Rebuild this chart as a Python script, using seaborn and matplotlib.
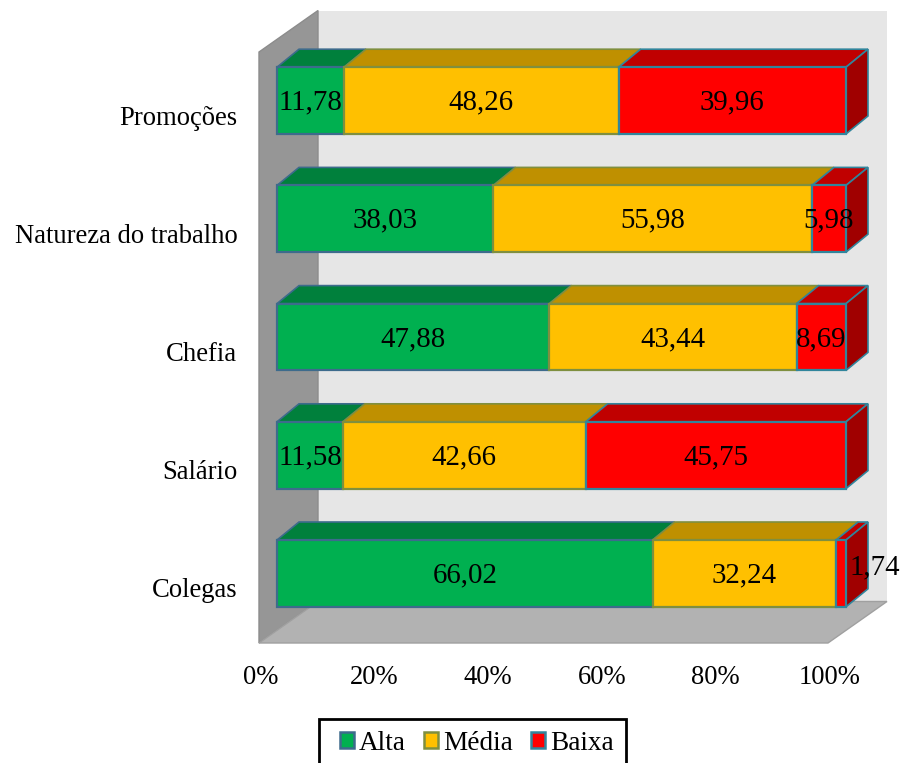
import numpy as np
import pandas as pd
import matplotlib
matplotlib.use("Agg")
import matplotlib.pyplot as plt
from matplotlib.patches import Patch, Polygon, Rectangle
from matplotlib.transforms import Affine2D, ScaledTranslation
import seaborn as sns

# Survey results: share of each satisfaction level per job aspect
categories = ["Promoções", "Natureza do trabalho", "Chefia", "Salário", "Colegas"]
alta = [11.78, 38.03, 47.88, 11.58, 66.02]
media = [48.26, 55.98, 43.44, 42.66, 32.24]
baixa = [39.96, 5.98, 8.69, 45.75, 1.74]
level_names = ["Alta", "Média", "Baixa"]
tick_values = [0, 20, 40, 60, 80, 100]
tick_labels = ["0%", "20%", "40%", "60%", "80%", "100%"]

front_colors = ["#00B050", "#FFC000", "#FF0000"]
top_colors = ["#00803C", "#BF9000", "#C00000"]
edge_colors = ["#3D6B8C", "#7F8F3F", "#31859C"]
side_color = "#A00000"

sns.set_theme(style="white")
plt.rcParams["font.family"] = ["Liberation Serif", "DejaVu Serif"]
FS = 19.2
FS_VALUE = 20.8
FS_LEGEND = 19.6

W, H = 900, 763
fig = plt.figure(figsize=(W / 100, H / 100), dpi=100)
ax = fig.add_axes([259 / W, (H - 643) / H, 569 / W, 591 / H])

df = pd.DataFrame({"aspecto": categories, "Alta": alta, "Média": media, "Baixa": baixa})
table = df[level_names].to_numpy()
norm = table / table.sum(axis=1, keepdims=True) * 100
starts = np.hstack([np.zeros((len(categories), 1)), np.cumsum(norm, axis=1)[:, :-1]])

# Pixel-to-data factors for the oblique depth projection
px = 100 / 569
py = 5 / 591
ax.set_xlim(0, 100)

# Box walls behind the bars
WX, WY = 59 * px, 41.5 * py
YTOP, YBOT = -0.5, 4.5
wall = dict(closed=True, clip_on=False, zorder=0)
ax.add_patch(Polygon([(WX, YTOP - WY), (100 + WX, YTOP - WY), (100 + WX, YBOT - WY), (WX, YBOT - WY)],
                     facecolor="#E6E6E6", edgecolor="none", **wall))
ax.add_patch(Polygon([(0, YTOP), (WX, YTOP - WY), (WX, YBOT - WY), (0, YBOT)],
                     facecolor="#969696", edgecolor="#8C8C8C", linewidth=1, **wall))
ax.add_patch(Polygon([(0, YBOT), (WX, YBOT - WY), (100 + WX, YBOT - WY), (100, YBOT)],
                     facecolor="#B2B2B2", edgecolor="#A0A0A0", linewidth=1, **wall))

# Offset of the bar front faces from the front plane, and the bar depth
SX, SY = 18 * px, 10.5 * py
DX, DY = 22 * px, 18 * py
shift = Affine2D().translate(SX, -SY) + ax.transData

BAR_H = 0.565
for j, name in enumerate(level_names):
    before = len(ax.patches)
    sns.barplot(data=df.assign(val=norm[:, j]), y="aspecto", x="val", left=starts[:, j],
                order=categories, color=front_colors[j], saturation=1, width=BAR_H,
                edgecolor=edge_colors[j], linewidth=1.6, ax=ax, errorbar=None, zorder=3)
    for patch in ax.patches[before:]:
        patch.set_transform(shift)
        patch.set_clip_on(False)

for i in range(len(categories)):
    y0 = i - BAR_H / 2 - SY
    y1 = i + BAR_H / 2 - SY
    for j in range(3):
        x0 = starts[i, j] + SX
        x1 = x0 + norm[i, j]
        ax.add_patch(Polygon([(x0, y0), (x0 + DX, y0 - DY), (x1 + DX, y0 - DY), (x1, y0)],
                             closed=True, facecolor=top_colors[j], edgecolor=edge_colors[j],
                             linewidth=1.2, clip_on=False, zorder=2))
    xe = 100 + SX
    ax.add_patch(Polygon([(xe, y0), (xe + DX, y0 - DY), (xe + DX, y1 - DY), (xe, y1)],
                         closed=True, facecolor=side_color, edgecolor=edge_colors[2],
                         linewidth=1.2, clip_on=False, zorder=2))

# Value labels; the thinnest segment has its label pushed past the bar end
for i in range(len(categories)):
    for j in range(3):
        xc = starts[i, j] + norm[i, j] / 2 + SX
        yc = i - SY + 2 * py
        if table[i, j] < 2:
            xc, yc = xc + 34 * px, yc - 8 * py
        ax.text(xc, yc, f"{table[i, j]:.2f}".replace(".", ","), ha="center", va="center",
                fontsize=FS_VALUE, color="black", zorder=6, clip_on=False)

ax.set_ylim(YBOT, YTOP)
ax.set_xticks(tick_values)
ax.set_xticklabels(tick_labels, fontsize=FS, color="black")
ax.set_xlabel("")
ax.set_ylabel("")
ax.tick_params(axis="x", length=0, pad=16)
ax.tick_params(axis="y", length=0, pad=15.5, labelsize=FS, labelcolor="black")
sns.despine(ax=ax, left=True, bottom=True)
ax.patch.set_visible(False)

# Nudge the tick labels to their final spots
nudge_y = ScaledTranslation(0, -4 / 100, fig.dpi_scale_trans)
for label in ax.get_yticklabels():
    label.set_transform(label.get_transform() + nudge_y)
nudge_x = ScaledTranslation(1.5 / 100, 0, fig.dpi_scale_trans)
for label in ax.get_xticklabels():
    label.set_transform(label.get_transform() + nudge_x)

# Legend box runs past the lower edge of the figure
fig.add_artist(Rectangle((319 / W, -10 / H), 307 / W, (H - 719 + 10) / H, transform=fig.transFigure,
                         facecolor="white", edgecolor="black", linewidth=2))
handles = [Patch(facecolor=f, edgecolor=e, linewidth=1.8, label=n)
           for f, e, n in zip(front_colors, edge_colors, level_names)]
fig.legend(handles=handles, ncols=3, frameon=False, fontsize=FS_LEGEND,
           loc="upper left", bbox_to_anchor=(340 / W, (H - 731) / H), borderaxespad=0, borderpad=0,
           handlelength=0.52, handleheight=0.52, handletextpad=0.17, columnspacing=0.68,
           labelcolor="black")

fig.savefig("out.png", dpi=100, facecolor="white")
